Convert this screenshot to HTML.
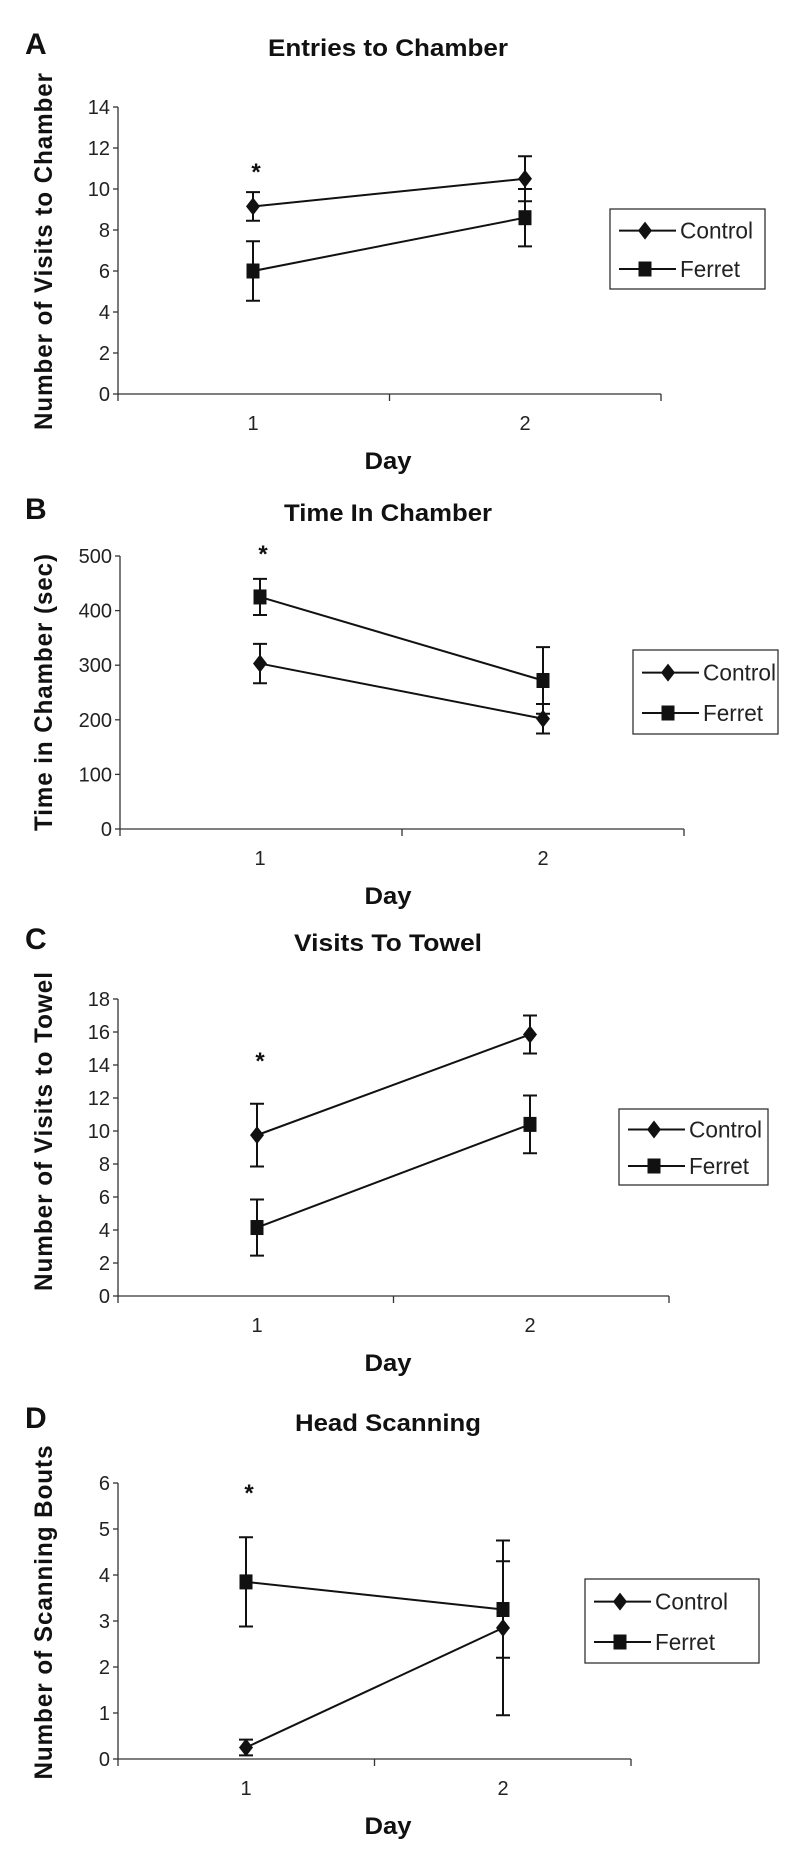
<!DOCTYPE html>
<html><head><meta charset="utf-8"><style>
body{margin:0;background:#fff;}
svg{display:block;}
.tk{font-family:"Liberation Sans Narrow","Liberation Sans",sans-serif;font-size:20px;fill:#222;}
.tt{font-family:"Liberation Sans Narrow","Liberation Sans",sans-serif;font-size:24px;font-weight:bold;fill:#111;}
.yt{font-family:"Liberation Sans",sans-serif;font-size:25px;font-weight:bold;fill:#111;letter-spacing:1px;}
.st{font-family:"Liberation Sans",sans-serif;font-size:24px;font-weight:bold;fill:#111;}
.pl{font-family:"Liberation Sans",sans-serif;font-size:30px;font-weight:bold;fill:#111;}
.lg{font-family:"Liberation Sans Narrow","Liberation Sans",sans-serif;font-size:23px;fill:#222;}
</style></head><body>
<svg id="fig" width="800" height="1862" viewBox="0 0 800 1862" xmlns="http://www.w3.org/2000/svg"></svg>
<script>
const days = [1, 2];
const aControl = [9.15, 10.5], aControlErr = [0.7, 1.1];
const aFerret = [6.0, 8.6], aFerretErr = [1.45, 1.4];
const aTicks = [0, 2, 4, 6, 8, 10, 12, 14];
const bControl = [303, 202], bControlErr = [36, 27];
const bFerret = [425, 272], bFerretErr = [33, 61];
const bTicks = [0, 100, 200, 300, 400, 500];
const cControl = [9.75, 15.85], cControlErr = [1.9, 1.15];
const cFerret = [4.15, 10.4], cFerretErr = [1.7, 1.75];
const cTicks = [0, 2, 4, 6, 8, 10, 12, 14, 16, 18];
const dControl = [0.25, 2.85], dControlErr = [0.17, 1.9];
const dFerret = [3.85, 3.25], dFerretErr = [0.97, 1.05];
const dTicks = [0, 1, 2, 3, 4, 5, 6];

const NS = "http://www.w3.org/2000/svg";
const fig = document.getElementById('fig');
function mk(tag, attrs, parent, txt) {
  const e = document.createElementNS(NS, tag);
  for (const k in attrs) e.setAttribute(k, attrs[k]);
  if (txt !== undefined) e.textContent = txt;
  (parent || fig).appendChild(e);
  return e;
}
function panel(p) {
  const g = mk('g', {});
  
  
  const ymax = p.ticks[p.ticks.length - 1];
  const ys = v => p.y0 - (v / ymax) * (p.y0 - p.yTop);
  const xs = d => p.x1 + (d - 1) * (p.x2 - p.x1);
  const lt = mk('text', {x: 25, y: p.letterY, class: 'pl'}, g, p.letter);
  
  
  const t = mk('text', {x: 388, y: p.titleY, class: 'tt', 'text-anchor': 'middle', textLength: p.titleW, lengthAdjust: 'spacingAndGlyphs'}, g, p.title);
  
  
  const yt = mk('text', {x: 0, y: 0, class: 'yt', 'text-anchor': 'middle', textLength: p.ytW, lengthAdjust: 'spacingAndGlyphs', transform: 'translate(52,' + p.ytC + ') rotate(-90)'}, g, p.ytitle);
  
  
  const ax = mk('path', {d: 'M' + p.ax + ',' + p.yTop + 'V' + p.y0 + 'H' + p.xEnd, stroke: '#333', 'stroke-width': 1.3, fill: 'none'}, g);
  
  
  p.ticks.forEach(v => {
    mk('line', {x1: p.ax - 5, x2: p.ax, y1: ys(v), y2: ys(v), stroke: '#333', 'stroke-width': 1.3}, g);
    const tl = mk('text', {x: p.ax - 8, y: ys(v) + 7, class: 'tk', 'text-anchor': 'end'}, g, v);
    
    
  });
  const mid = (p.ax + p.xEnd) / 2;
  [p.ax, mid, p.xEnd].forEach(x => mk('line', {x1: x, x2: x, y1: p.y0, y2: p.y0 + 7, stroke: '#333', 'stroke-width': 1.3}, g));
  days.forEach(d => {
    const xl = mk('text', {x: xs(d), y: p.y0 + 36, class: 'tk', 'text-anchor': 'middle'}, g, d);
    
    
  });
  const xt = mk('text', {x: 388, y: p.y0 + 75, class: 'tt', 'text-anchor': 'middle', textLength: 47, lengthAdjust: 'spacingAndGlyphs'}, g, 'Day');
  
  
  const st = mk('text', {x: xs(1) + 3, y: p.starY + 12, class: 'st', 'text-anchor': 'middle'}, g, '*');
  
  
  function series(vals, errs, shape, name) {
    const sg = mk('g', {}, g);
    
    
    mk('polyline', {points: days.map((d, i) => xs(d) + ',' + ys(vals[i])).join(' '), stroke: '#111', 'stroke-width': 2, fill: 'none'}, sg);
    days.forEach((d, i) => {
      const x = xs(d), hi = ys(vals[i] + errs[i]), lo = ys(vals[i] - errs[i]);
      const eb = mk('path', {d: 'M' + x + ',' + hi + 'V' + lo + 'M' + (x - 7) + ',' + hi + 'H' + (x + 7) + 'M' + (x - 7) + ',' + lo + 'H' + (x + 7), stroke: '#111', 'stroke-width': 2, fill: 'none'}, sg);
      
      
      const y = ys(vals[i]);
      let m;
      if (shape === 'd') m = mk('polygon', {points: x + ',' + (y - 9) + ' ' + (x + 7) + ',' + y + ' ' + x + ',' + (y + 9) + ' ' + (x - 7) + ',' + y, fill: '#111'}, sg);
      else m = mk('rect', {x: x - 6.5, y: y - 7.5, width: 13, height: 15, fill: '#111'}, sg);
      
      
    });
  }
  series(p.control, p.controlErr, 'd', 'control');
  series(p.ferret, p.ferretErr, 's', 'ferret');
  const L = p.legend;
  const lg = mk('g', {}, g);
  
  
  mk('rect', {x: L[0], y: L[1], width: L[2] - L[0], height: L[3] - L[1], fill: '#fff', stroke: '#333', 'stroke-width': 1.3}, lg);
  const h = L[3] - L[1];
  [['Control', 'd', 0.27, 73], ['Ferret', 's', 0.75, 60]].forEach(([lab, sh, f, w]) => {
    const e = mk('g', {}, lg);
    
    
    const yy = L[1] + h * f, x0 = L[0] + 9, xm = x0 + 26;
    mk('line', {x1: x0, x2: x0 + 57, y1: yy, y2: yy, stroke: '#111', 'stroke-width': 2}, e);
    if (sh === 'd') mk('polygon', {points: xm + ',' + (yy - 9) + ' ' + (xm + 7) + ',' + yy + ' ' + xm + ',' + (yy + 9) + ' ' + (xm - 7) + ',' + yy, fill: '#111'}, e);
    else mk('rect', {x: xm - 6.5, y: yy - 7.5, width: 13, height: 15, fill: '#111'}, e);
    mk('text', {x: x0 + 61, y: yy + 8, class: 'lg', textLength: w, lengthAdjust: 'spacingAndGlyphs'}, e, lab);
  });
}
panel({letter: 'A', letterY: 54, title: 'Entries to Chamber', titleW: 240, titleY: 56, ytitle: 'Number of Visits to Chamber', ytW: 358, ytC: 251, ticks: aTicks,
  ax: 118, yTop: 107, y0: 394, xEnd: 661, x1: 253, x2: 525, starY: 168,
  control: aControl, controlErr: aControlErr, ferret: aFerret, ferretErr: aFerretErr, legend: [610, 209, 765, 289]});
panel({letter: 'B', letterY: 519, title: 'Time In Chamber', titleW: 208, titleY: 521, ytitle: 'Time in Chamber (sec)', ytW: 278, ytC: 692, ticks: bTicks,
  ax: 120, yTop: 556, y0: 829, xEnd: 684, x1: 260, x2: 543, starY: 550,
  control: bControl, controlErr: bControlErr, ferret: bFerret, ferretErr: bFerretErr, legend: [633, 650, 778, 734]});
panel({letter: 'C', letterY: 949, title: 'Visits To Towel', titleW: 188, titleY: 951, ytitle: 'Number of Visits to Towel', ytW: 320, ytC: 1131, ticks: cTicks,
  ax: 118, yTop: 999, y0: 1296, xEnd: 669, x1: 257, x2: 530, starY: 1057,
  control: cControl, controlErr: cControlErr, ferret: cFerret, ferretErr: cFerretErr, legend: [619, 1109, 768, 1185]});
panel({letter: 'D', letterY: 1428, title: 'Head Scanning', titleW: 186, titleY: 1431, ytitle: 'Number of Scanning Bouts', ytW: 335, ytC: 1612, ticks: dTicks,
  ax: 118, yTop: 1483, y0: 1759, xEnd: 631, x1: 246, x2: 503, starY: 1489,
  control: dControl, controlErr: dControlErr, ferret: dFerret, ferretErr: dFerretErr, legend: [585, 1579, 759, 1663]});
</script>
</body></html>
